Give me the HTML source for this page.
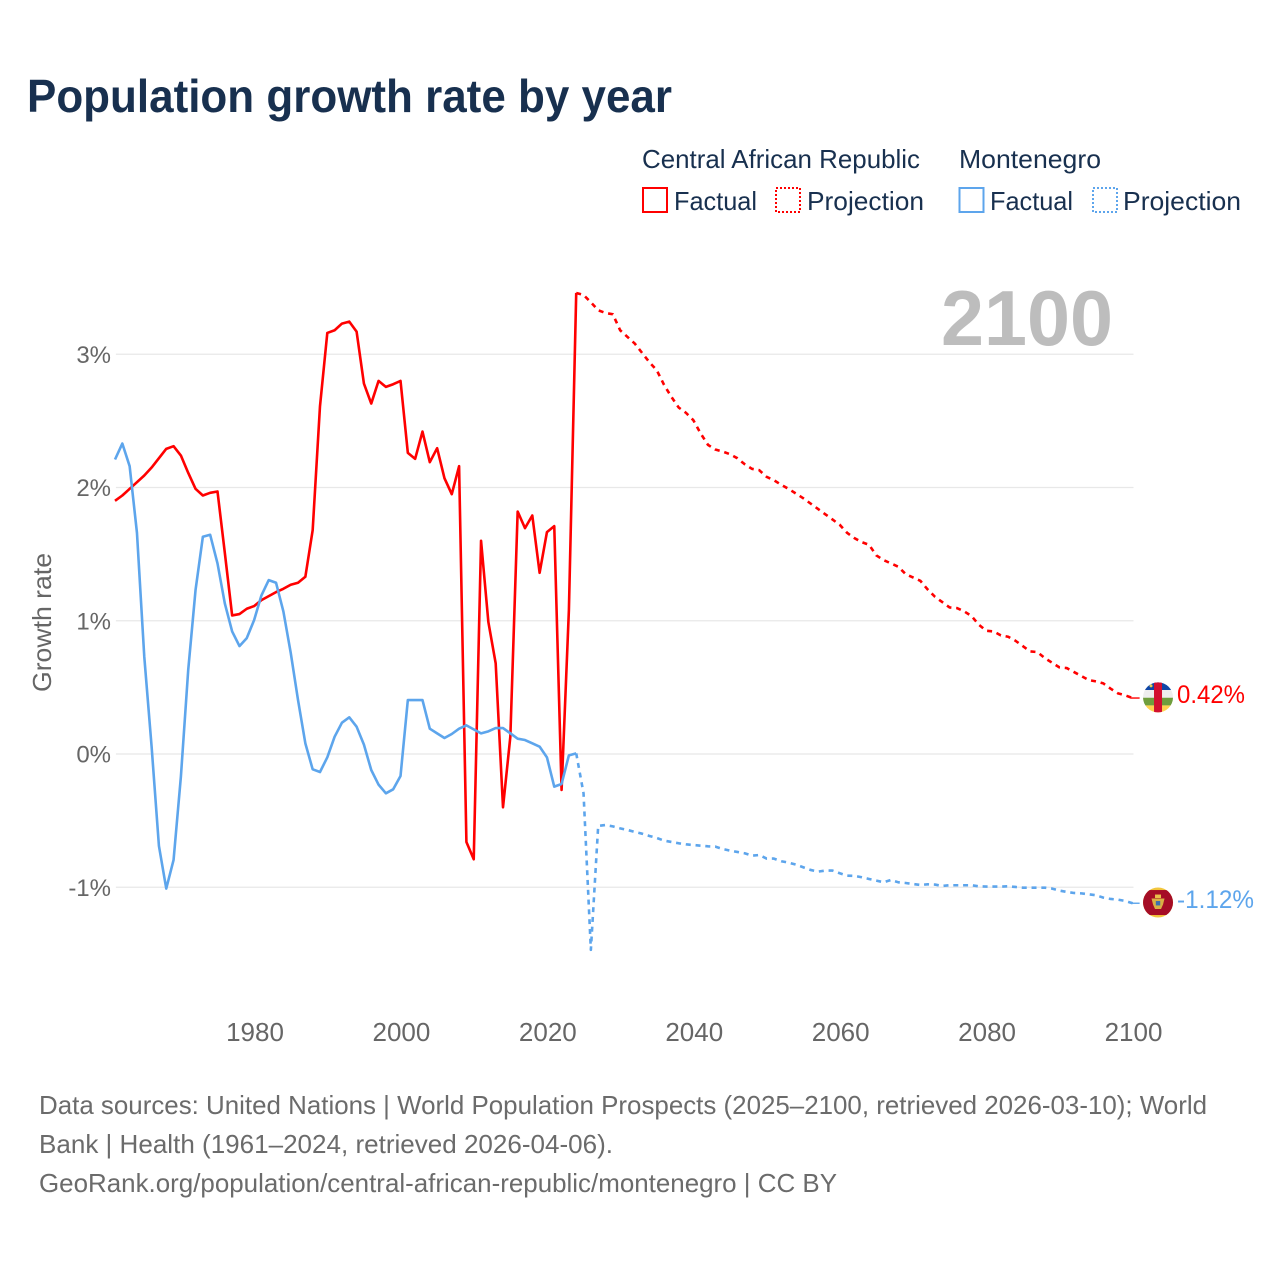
<!DOCTYPE html>
<html lang="en">
<head>
<meta charset="utf-8">
<title>Population growth rate by year</title>
<style>
html,body{margin:0;padding:0;background:#fff;}
svg{display:block;font-family:"Liberation Sans",sans-serif;}
</style>
</head>
<body>
<svg id="chart" xmlns="http://www.w3.org/2000/svg" width="1280" height="1280" viewBox="0 0 1280 1280">
  <rect x="0" y="0" width="1280" height="1280" fill="#ffffff"/>
  <text x="27" y="112" font-size="46" font-weight="700" fill="#18304f" textLength="645" lengthAdjust="spacingAndGlyphs">Population growth rate by year</text>

  <g font-size="26" fill="#18304f">
    <text x="642" y="168" textLength="278" lengthAdjust="spacingAndGlyphs">Central African Republic</text>
    <text x="959" y="168" textLength="142" lengthAdjust="spacingAndGlyphs">Montenegro</text>
    <rect x="643" y="188" width="24" height="24" fill="none" stroke="#ff0000" stroke-width="2"/>
    <text x="674" y="210" textLength="83" lengthAdjust="spacingAndGlyphs">Factual</text>
    <rect x="776" y="188" width="24" height="24" fill="none" stroke="#ff0000" stroke-width="2" stroke-dasharray="2 2"/>
    <text x="807" y="210" textLength="117" lengthAdjust="spacingAndGlyphs">Projection</text>
    <rect x="959.5" y="188" width="24" height="24" fill="none" stroke="#5da5ec" stroke-width="2"/>
    <text x="990" y="210" textLength="83" lengthAdjust="spacingAndGlyphs">Factual</text>
    <rect x="1093" y="188" width="24" height="24" fill="none" stroke="#5da5ec" stroke-width="2" stroke-dasharray="2 2"/>
    <text x="1123" y="210" textLength="118" lengthAdjust="spacingAndGlyphs">Projection</text>
  </g>

  <g id="grid"></g>
  <text x="941" y="345" font-size="78" font-weight="700" fill="#bdbdbd" textLength="172" lengthAdjust="spacingAndGlyphs">2100</text>
  <text transform="translate(51,692) rotate(-90)" font-size="26" fill="#666666" textLength="139" lengthAdjust="spacingAndGlyphs">Growth rate</text>
  <g id="yTicksGroup"></g>
  <g id="xTicksGroup"></g>
  <g id="series"></g>

  <defs>
    <clipPath id="flagClip"><circle cx="0" cy="0" r="15"/></clipPath>
  </defs>
  <g id="flagCar">
    <g clip-path="url(#flagClip)">
      <rect x="-16" y="-16" width="32" height="8.7" fill="#0f47a8"/>
      <rect x="-16" y="-7.3" width="32" height="7.7" fill="#eeeeee"/>
      <rect x="-16" y="0.4" width="32" height="7.7" fill="#6f9e3d"/>
      <rect x="-16" y="8.1" width="32" height="7.9" fill="#ffd34f"/>
      <rect x="-4" y="-16" width="8" height="32" fill="#d2102f"/>
      <circle cx="-7" cy="-11.5" r="1.5" fill="#e8cf50"/>
    </g>
  </g>
  <g id="flagMne">
    <g clip-path="url(#flagClip)">
      <rect x="-16" y="-16" width="32" height="32" fill="#f2c63d"/>
      <rect x="-16" y="-12.5" width="32" height="25" fill="#a50d26"/>
      <rect x="-3" y="-8" width="6" height="3.5" fill="#e9c04a"/>
      <path d="M-6.5 -4 L6.5 -4 L5 2 L3 6.5 L-3 6.5 L-5 2 Z" fill="#d9b044"/>
      <rect x="-2.2" y="-1.5" width="4.4" height="4.4" fill="#3d6fae"/>
    </g>
  </g>
  <g id="endLabels"></g>

  <g font-size="26" fill="#6b6b6b">
    <text x="39" y="1114" textLength="1168" lengthAdjust="spacingAndGlyphs">Data sources: United Nations | World Population Prospects (2025–2100, retrieved 2026-03-10); World</text>
    <text x="39" y="1153" textLength="574" lengthAdjust="spacingAndGlyphs">Bank | Health (1961–2024, retrieved 2026-04-06).</text>
    <text x="39" y="1192" textLength="798" lengthAdjust="spacingAndGlyphs">GeoRank.org/population/central-african-republic/montenegro | CC BY</text>
  </g>
</svg>
<script>
const yTickValues = [3, 2, 1, 0, -1];
const yTickLabels = ["3%", "2%", "1%", "0%", "-1%"];
const xTickYears = [1980, 2000, 2020, 2040, 2060, 2080, 2100];
const factualStartYear = 1961;
const projectionStartYear = 2024;

const carFactual = [1.90,1.94,1.99,2.04,2.09,2.15,2.22,2.29,2.31,2.24,2.11,1.99,1.94,1.96,1.97,1.51,1.04,1.05,1.09,1.11,1.155,1.185,1.215,1.24,1.27,1.285,1.33,1.68,2.61,3.16,3.18,3.23,3.245,3.17,2.78,2.63,2.80,2.755,2.775,2.80,2.26,2.215,2.42,2.19,2.295,2.07,1.95,2.16,-0.66,-0.79,1.60,0.99,0.68,-0.40,0.13,1.82,1.695,1.79,1.36,1.665,1.71,-0.27,1.08,3.46];
const carProjection = [3.46,3.445,3.39,3.33,3.31,3.30,3.18,3.13,3.08,3.01,2.94,2.88,2.77,2.68,2.60,2.56,2.505,2.405,2.32,2.285,2.27,2.25,2.22,2.175,2.14,2.13,2.08,2.055,2.02,1.99,1.955,1.92,1.88,1.84,1.80,1.76,1.72,1.66,1.62,1.59,1.57,1.49,1.455,1.43,1.405,1.35,1.325,1.30,1.235,1.18,1.14,1.10,1.095,1.07,1.035,0.97,0.925,0.92,0.89,0.88,0.85,0.81,0.77,0.765,0.72,0.685,0.65,0.645,0.615,0.585,0.555,0.545,0.53,0.49,0.455,0.44,0.42];
const mneFactual = [2.21,2.33,2.16,1.66,0.73,0.055,-0.69,-1.01,-0.795,-0.17,0.63,1.23,1.63,1.645,1.43,1.13,0.92,0.81,0.87,1.005,1.19,1.305,1.285,1.07,0.76,0.405,0.08,-0.115,-0.135,-0.025,0.13,0.235,0.275,0.205,0.07,-0.12,-0.23,-0.295,-0.265,-0.165,0.405,0.405,0.405,0.19,0.155,0.12,0.15,0.19,0.215,0.185,0.155,0.17,0.195,0.195,0.155,0.115,0.105,0.08,0.055,-0.025,-0.245,-0.225,-0.01,0.005];
const mneProjection = [0.005,-0.295,-1.47,-0.54,-0.533,-0.543,-0.558,-0.57,-0.585,-0.598,-0.615,-0.63,-0.65,-0.66,-0.67,-0.678,-0.683,-0.688,-0.693,-0.695,-0.713,-0.725,-0.735,-0.745,-0.763,-0.758,-0.785,-0.785,-0.805,-0.815,-0.83,-0.85,-0.87,-0.883,-0.875,-0.875,-0.895,-0.913,-0.915,-0.925,-0.938,-0.95,-0.963,-0.945,-0.963,-0.968,-0.976,-0.983,-0.978,-0.98,-0.99,-0.985,-0.985,-0.985,-0.985,-0.993,-0.995,-0.995,-0.995,-0.993,-0.998,-1.003,-1.003,-1.003,-1.003,-1.01,-1.025,-1.035,-1.043,-1.046,-1.053,-1.06,-1.078,-1.088,-1.093,-1.103,-1.12];
const carEndLabel = "0.42%";
const mneEndLabel = "-1.12%";

const SVGNS = "http://www.w3.org/2000/svg";
function xScale(year) { return 255 + (year - 1980) * 7.321; }
function xSeries(year) { return xScale(year) - 0.9; }
function yScale(value) { return 754 - value * 133.25; }
function linePath(values, startYear) {
  return values.map(function (v, i) {
    return (i === 0 ? "M" : "L") + xSeries(startYear + i).toFixed(2) + " " + yScale(v).toFixed(2);
  }).join(" ");
}
function makeSeries(values, startYear, color, dashed) {
  const p = document.createElementNS(SVGNS, "path");
  p.setAttribute("d", linePath(values, startYear));
  p.setAttribute("fill", "none");
  p.setAttribute("stroke", color);
  p.setAttribute("stroke-width", "2.6");
  p.setAttribute("stroke-linejoin", "round");
  if (dashed) p.setAttribute("stroke-dasharray", "5 4.8");
  document.getElementById("series").appendChild(p);
  return p;
}

const gridGroup = document.getElementById("grid");
const yGroup = document.getElementById("yTicksGroup");
yTickValues.forEach(function (v, i) {
  const line = document.createElementNS(SVGNS, "line");
  
  
  line.setAttribute("x1", xScale(1961));
  line.setAttribute("x2", xScale(2100));
  line.setAttribute("y1", yScale(v));
  line.setAttribute("y2", yScale(v));
  line.setAttribute("stroke", "#e8e8e8");
  line.setAttribute("stroke-width", "1.2");
  gridGroup.appendChild(line);
  const t = document.createElementNS(SVGNS, "text");
  
  
  t.setAttribute("x", 111);
  t.setAttribute("y", yScale(v) + 8.5);
  t.setAttribute("text-anchor", "end");
  t.setAttribute("font-size", "24");
  t.setAttribute("fill", "#666666");
  t.textContent = yTickLabels[i];
  yGroup.appendChild(t);
});

const xGroup = document.getElementById("xTicksGroup");
xTickYears.forEach(function (yr) {
  const t = document.createElementNS(SVGNS, "text");
  
  
  t.setAttribute("x", xScale(yr));
  t.setAttribute("y", 1041);
  t.setAttribute("text-anchor", "middle");
  t.setAttribute("font-size", "26");
  t.setAttribute("fill", "#666666");
  t.textContent = String(yr);
  xGroup.appendChild(t);
});

const carFactualLine = makeSeries(carFactual, factualStartYear, "#ff0000", false);


const carProjectionLine = makeSeries(carProjection, projectionStartYear, "#ff0000", true);


const mneFactualLine = makeSeries(mneFactual, factualStartYear, "#5da5ec", false);


const mneProjectionLine = makeSeries(mneProjection, projectionStartYear, "#5da5ec", true);



const endX = xSeries(projectionStartYear + carProjection.length - 1);
const carEndY = yScale(carProjection[carProjection.length - 1]);
const mneEndY = yScale(mneProjection[mneProjection.length - 1]);
document.getElementById("flagCar").setAttribute("transform", "translate(" + (endX + 25.4) + "," + (carEndY - 0.7) + ")");
document.getElementById("flagMne").setAttribute("transform", "translate(" + (endX + 25.4) + "," + (mneEndY - 0.7) + ")");

const carConnector = document.createElementNS(SVGNS, "line");


carConnector.setAttribute("x1", endX - 2);
carConnector.setAttribute("x2", endX + 7);
carConnector.setAttribute("y1", carEndY);
carConnector.setAttribute("y2", carEndY);
carConnector.setAttribute("stroke", "#ff0000");
carConnector.setAttribute("stroke-width", "1.4");
document.getElementById("series").appendChild(carConnector);
const mneConnector = document.createElementNS(SVGNS, "line");


mneConnector.setAttribute("x1", endX - 2);
mneConnector.setAttribute("x2", endX + 7);
mneConnector.setAttribute("y1", mneEndY);
mneConnector.setAttribute("y2", mneEndY);
mneConnector.setAttribute("stroke", "#5da5ec");
mneConnector.setAttribute("stroke-width", "1.4");
document.getElementById("series").appendChild(mneConnector);

const endGroup = document.getElementById("endLabels");
const carLabel = document.createElementNS(SVGNS, "text");


carLabel.setAttribute("x", 1177);
carLabel.setAttribute("y", carEndY + 5);
carLabel.setAttribute("font-size", "25");
carLabel.setAttribute("fill", "#ff0000");
carLabel.setAttribute("textLength", "68");
carLabel.setAttribute("lengthAdjust", "spacingAndGlyphs");
carLabel.textContent = carEndLabel;
endGroup.appendChild(carLabel);
const mneLabel = document.createElementNS(SVGNS, "text");


mneLabel.setAttribute("x", 1177);
mneLabel.setAttribute("y", mneEndY + 5);
mneLabel.setAttribute("font-size", "25");
mneLabel.setAttribute("fill", "#5da5ec");
mneLabel.setAttribute("textLength", "77");
mneLabel.setAttribute("lengthAdjust", "spacingAndGlyphs");
mneLabel.textContent = mneEndLabel;
endGroup.appendChild(mneLabel);
</script>
</body>
</html>
